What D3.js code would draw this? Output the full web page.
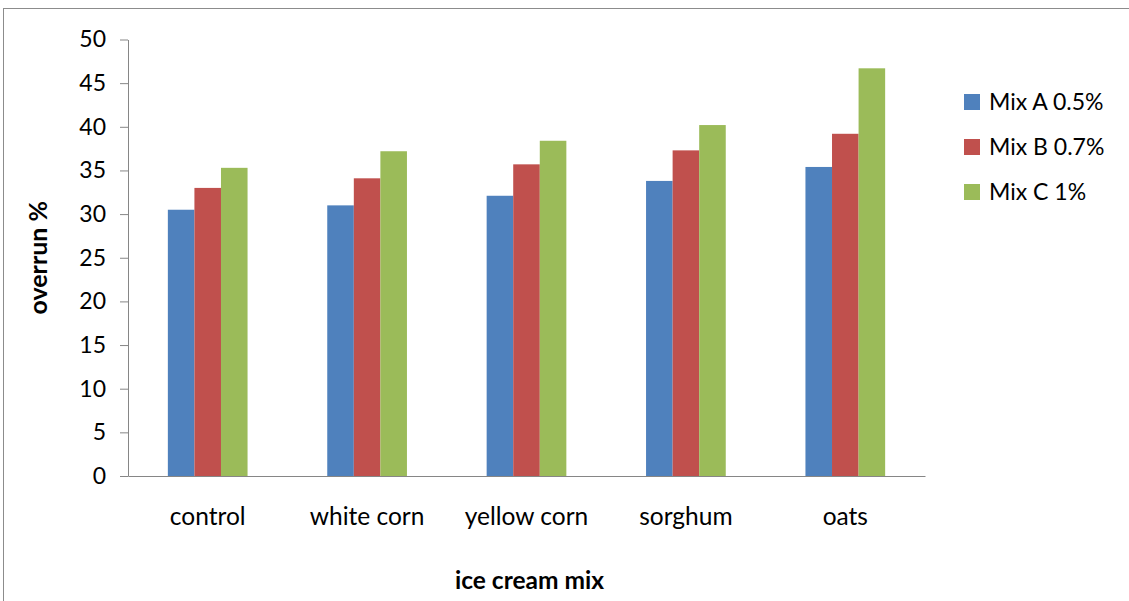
<!DOCTYPE html>
<html>
<head>
<meta charset="utf-8">
<script src="https://cdn.jsdelivr.net/npm/d3@7"></script>
<style>
  body { margin: 0; background: #fff; }
  svg text { font-family: Lato, "Open Sans", sans-serif; fill: #000; }
</style>
</head>
<body>
<div id="chart"></div>
<script>
// data
const categories = ["control", "white corn", "yellow corn", "sorghum", "oats"];
const seriesNames = ["Mix A 0.5%", "Mix B 0.7%", "Mix C 1%"];
const mixA = [30.5, 31.0, 32.1, 33.8, 35.4];
const mixB = [33.0, 34.1, 35.7, 37.3, 39.2];
const mixC = [35.3, 37.2, 38.4, 40.2, 46.7];
const yTicks = [0, 5, 10, 15, 20, 25, 30, 35, 40, 45, 50];
const colors = ["#4F81BD", "#C0504D", "#9BBB59"];

const width = 1129, height = 601;
const seriesValues = [mixA, mixB, mixC];

const svg = d3.select("#chart").append("svg")
    .attr("width", width)
    .attr("height", height);

// outer frame of the chart area
svg.append("rect")
    .attr("x", 3.5).attr("y", 8.5)
    .attr("width", width + 10).attr("height", height + 10)
    .attr("fill", "none").attr("stroke", "#8c8c8c").attr("stroke-width", 1);

const plot = { left: 128, right: 925, top: 39.5, bottom: 476 };

const x = d3.scaleBand().domain(categories).range([plot.left, plot.right]);
const bw = x.bandwidth();
const xSub = d3.scaleBand().domain(seriesNames).range([bw * 0.25, bw * 0.75]);
const y = d3.scaleLinear().domain([0, 50]).range([plot.bottom, plot.top]);

// bars
const groups = svg.append("g").selectAll("g")
    .data(categories)
    .join("g")
    .attr("transform", d => `translate(${x(d)},0)`);

groups.selectAll("rect")
    .data((c, i) => seriesNames.map((s, k) => ({ s, k, v: seriesValues[k][i] })))
    .join("rect")
    .attr("x", d => xSub(d.s))
    .attr("width", xSub.bandwidth())
    .attr("y", d => y(d.v))
    .attr("height", d => y(0) - y(d.v))
    .attr("fill", d => colors[d.k]);

// y axis
const yAxis = svg.append("g")
    .attr("transform", `translate(${plot.left},0)`)
    .call(d3.axisLeft(y).tickValues(yTicks).tickSize(8).tickPadding(14).tickSizeOuter(0));
yAxis.select(".domain").attr("stroke", "#868686");
yAxis.selectAll(".tick line").attr("stroke", "#868686");
yAxis.selectAll(".tick text").style("font-size", "23px");

// x axis
const xAxis = svg.append("g")
    .attr("transform", `translate(0,${plot.bottom})`)
    .call(d3.axisBottom(x).tickSize(0).tickPadding(32).tickSizeOuter(0));
xAxis.select(".domain").attr("stroke", "#868686");
xAxis.selectAll(".tick text").style("font-size", "24.5px");

// axis titles
svg.append("text")
    .attr("transform", `translate(47,${(plot.top + plot.bottom) / 2}) rotate(-90)`)
    .attr("text-anchor", "middle")
    .style("font-size", "25px").style("font-weight", "bold")
    .text("overrun %");

svg.append("text")
    .attr("x", (plot.left + plot.right) / 2 + 3)
    .attr("y", 589)
    .attr("text-anchor", "middle")
    .style("font-size", "24.5px").style("font-weight", "bold")
    .text("ice cream mix");

// legend
const legend = svg.append("g").selectAll("g")
    .data(seriesNames)
    .join("g")
    .attr("transform", (d, i) => `translate(964,${102 + i * 45})`);
legend.append("rect")
    .attr("y", -8).attr("width", 16).attr("height", 16)
    .attr("fill", (d, i) => colors[i]);
legend.append("text")
    .attr("x", 25).attr("dy", "0.35em")
    .style("font-size", "23px")
    .text(d => d);
</script>
</body>
</html>
